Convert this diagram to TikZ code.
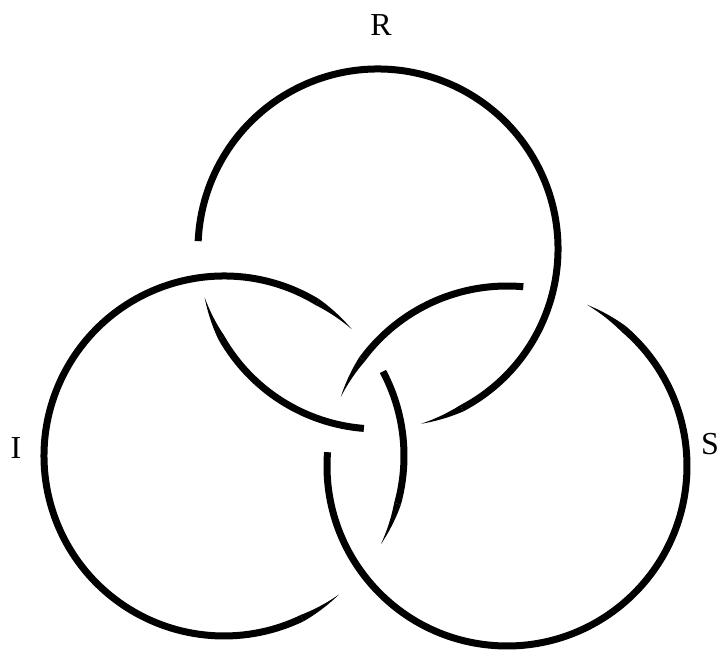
\documentclass[tikz,border=0pt]{standalone}
\usepackage{fontspec}
\setmainfont{Liberation Serif}
\tikzset{
  ring/.style={line width=3.5pt},
  ringname/.style={font=\fontsize{16}{19}\selectfont, inner sep=0pt}
}
% tapered end of a ring strand: #1 = base angle, #2 = tip angle
\newcommand{\ringtip}[2]{%
  \fill plot[domain=#1:#2, samples=14] (\x:{180+3.5*(\x-(#2))/((#1)-(#2))})
    -- plot[domain=#2:#1, samples=14] (\x:{180-3.5*(\x-(#2))/((#1)-(#2))}) -- cycle;}

\begin{document}
\begin{tikzpicture}[x=0.5pt, y=0.5pt]
    \useasboundingbox (0,0) rectangle (718,652);

    \coordinate (cR) at (378,403);
    \coordinate (cI) at (224,196);
    \coordinate (cS) at (507,186);

    % Ring R
    \begin{scope}[shift={(cR)}]
        \draw[ring] (-62.2:180) arc[start angle=-62.2, end angle=177.5, radius=180];
        \ringtip{-62.2}{-76.2}
        \draw[ring] (209.6:180) arc[start angle=209.6, end angle=265.5, radius=180];
        \ringtip{209.6}{195.6}
    \end{scope}

    % Ring I
    \begin{scope}[shift={(cI)}]
        \draw[ring] (58.8:180) arc[start angle=58.8, end angle=295.7, radius=180];
        \ringtip{58.8}{44.8}
        \ringtip{295.7}{309.7}
        \draw[ring] (-15.4:180) arc[start angle=-15.4, end angle=28, radius=180];
        \ringtip{-15.4}{-29.4}
    \end{scope}

    % Ring S
    \begin{scope}[shift={(cS)}]
        \draw[ring] (175.6:180) arc[start angle=175.6, end angle=409.6, radius=180];
        \ringtip{409.6}{423.6}
        \draw[ring] (84.8:180) arc[start angle=84.8, end angle=143.5, radius=180];
        \ringtip{143.5}{157.5}
    \end{scope}

    % Names
    \node[ringname] (labR) at (381,627) {R};
    \node[ringname] (labI) at (16,204) {I};
    \node[ringname] (labS) at (710,208) {S};

\end{tikzpicture}
\end{document}
